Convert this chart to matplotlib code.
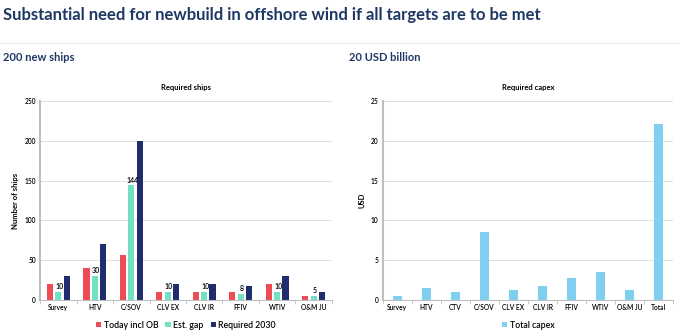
import numpy as np
import matplotlib
matplotlib.use("Agg")
import matplotlib.pyplot as plt
from matplotlib.lines import Line2D

plt.rcParams['font.family'] = ['Lato', 'DejaVu Sans']

# ships data
ship_cats = ['Survey', 'HTV', 'C/SOV', 'CLV EX', 'CLV IR', 'FFIV', 'WTIV', 'O&M JU']
today = [20, 40, 56, 10, 10, 10, 20, 5]
gap = [10, 30, 144, 10, 10, 8, 10, 5]
required = [30, 70, 200, 20, 20, 18, 30, 10]

# capex data (USD billion)
capex_cats = ['Survey', 'HTV', 'CTV', 'C/SOV', 'CLV EX', 'CLV IR', 'FFIV', 'WTIV', 'O&M JU', 'Total']
capex = [0.5, 1.5, 1.0, 8.6, 1.25, 1.75, 2.8, 3.5, 1.25, 22.1]

navy_txt = '#1f3864'
red = '#ef4b55'
teal = '#72e0c3'
navy = '#1f2d6e'
light = '#7fd0ee'
grid_c = '#d9d9d9'
spine_c = '#bfbfbf'

fig = plt.figure(figsize=(6.8, 3.3), dpi=100)
fig.text(0.005, 0.955, 'Substantial need for newbuild in offshore wind if all targets are to be met',
         fontsize=12, fontweight='bold', color=navy_txt, va='center')
fig.add_artist(Line2D([0, 1], [0.87, 0.87], color='#e8e8e8', lw=0.8))
fig.text(0.005, 0.825, '200 new ships', fontsize=8, fontweight='bold', color=navy_txt, va='center')
fig.text(0.513, 0.825, '20 USD billion', fontsize=8, fontweight='bold', color=navy_txt, va='center')


def style(ax, ymax, step):
    ax.set_ylim(0, ymax)
    ax.set_yticks(np.arange(0, ymax + 1, step))
    ax.yaxis.grid(True, color=grid_c, lw=0.6)
    ax.set_axisbelow(True)
    for s in ['top', 'right']:
        ax.spines[s].set_visible(False)
    ax.spines['left'].set_color(spine_c)
    ax.spines['left'].set_linewidth(1.5)
    ax.spines['bottom'].set_color(spine_c)
    ax.spines['bottom'].set_linewidth(0.8)
    ax.tick_params(axis='both', labelsize=4.8, length=0, pad=3, colors='black')
    for lab in ax.get_xticklabels() + ax.get_yticklabels():
        lab.set_fontweight('semibold')


# left chart
ax1 = fig.add_axes([0.059, 0.091, 0.429, 0.603])
x = np.arange(len(ship_cats))
w = 0.17
ax1.bar(x - 0.23, today, w, color=red, label='Today incl OB')
ax1.bar(x, gap, w, color=teal, label='Est. gap')
ax1.bar(x + 0.23, required, w, color=navy, label='Required 2030')
for xi, g in zip(x, gap):
    ax1.text(xi + 0.03, g + 2, str(g), fontsize=5, fontweight='semibold', ha='center', va='bottom')
ax1.set_xlim(-0.5, len(ship_cats) - 0.5)
ax1.set_xticks(x)
ax1.set_xticklabels(ship_cats)
ax1.set_xticks(np.arange(len(ship_cats) + 1) - 0.5, minor=True)
style(ax1, 250, 50)
ax1.tick_params(axis='x', which='minor', length=3, color=spine_c)
ax1.set_ylabel('Number of ships', fontsize=5.5, fontweight='bold')
ax1.set_title('Required ships', fontsize=5.5, fontweight='bold', pad=8)
ax1.legend(loc='upper center', bbox_to_anchor=(0.5, -0.065), ncol=3, frameon=False,
           prop={'size': 6.3, 'weight': 'semibold'},
           handlelength=0.6, handleheight=0.6, handletextpad=0.3, columnspacing=0.8)

# right chart
ax2 = fig.add_axes([0.563, 0.091, 0.427, 0.603])
x2 = np.arange(len(capex_cats))
ax2.bar(x2, capex, 0.3, color=light, label='Total capex')
ax2.set_xlim(-0.5, len(capex_cats) - 0.5)
ax2.set_xticks(x2)
ax2.set_xticklabels(capex_cats)
ax2.set_xticks(np.arange(len(capex_cats) + 1) - 0.5, minor=True)
style(ax2, 25, 5)
ax2.tick_params(axis='x', which='minor', length=3, color=spine_c)
ax2.set_ylabel('USD', fontsize=5.5, fontweight='bold')
ax2.set_title('Required capex', fontsize=5.5, fontweight='bold', pad=8)
ax2.legend(loc='upper center', bbox_to_anchor=(0.5, -0.065), ncol=1, frameon=False,
           prop={'size': 6.3, 'weight': 'semibold'},
           handlelength=0.6, handleheight=0.6, handletextpad=0.3)

fig.savefig('out.png', dpi=100)
